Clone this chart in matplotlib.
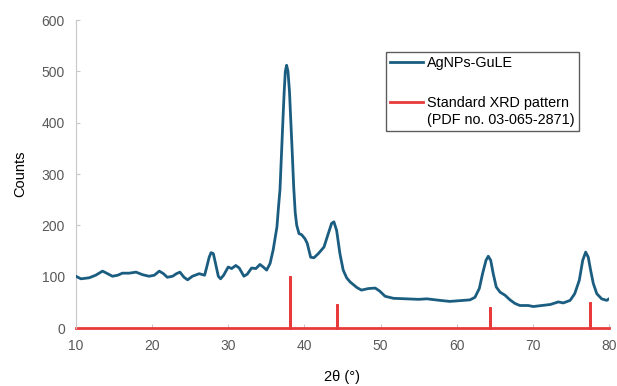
import matplotlib
matplotlib.use("Agg")
import matplotlib.pyplot as plt
from matplotlib.legend_handler import HandlerLine2D

plt.rcParams['font.family'] = ['Liberation Sans', 'DejaVu Sans']

# Measured XRD pattern (AgNPs-GuLE)
two_theta = [10.0, 10.66, 11.75, 12.6, 13.5, 14.16, 14.8, 15.5, 16.1, 17.0, 17.9, 18.76,
             19.6, 20.3, 20.95, 21.5, 22.0, 22.7, 23.2, 23.66, 24.2, 24.67, 25.3, 26.2,
             26.9, 27.2, 27.5, 27.75, 28.05, 28.35, 28.7, 29.0, 29.4, 30.0, 30.45, 31.0,
             31.45, 32.06, 32.5, 33.07, 33.64, 34.17, 34.6, 35.05, 35.5, 35.9, 36.4, 36.6,
             36.8, 37.0, 37.2, 37.35, 37.5, 37.67, 37.85, 38.05, 38.2, 38.4, 38.6, 38.8,
             39.0, 39.3, 39.64, 40.08, 40.38, 40.83, 41.26, 41.83, 42.58, 43.14, 43.58, 43.88,
             44.24, 44.67, 45.1, 45.55, 46.0, 46.9, 47.5, 48.4, 49.3, 49.9, 50.6, 51.7,
             53.4, 55.0, 56.1, 57.8, 59.1, 60.9, 61.75, 62.4, 62.97, 63.4, 63.85, 64.15,
             64.47, 64.8, 65.2, 65.7, 66.35, 67.0, 67.66, 68.3, 69.4, 70.06, 71.16, 72.3,
             73.35, 74.0, 74.9, 75.5, 76.1, 76.55, 76.94, 77.28, 77.6, 77.94, 78.4, 79.04,
             79.7, 80.0]
counts = [101, 96, 98, 103, 111, 106, 101, 103, 107, 107, 109, 104,
          101, 103, 111, 106, 99, 101, 106, 109, 99, 94, 101, 106,
          103, 120, 138, 147, 145, 125, 101, 96, 103, 119, 116, 122,
          117, 101, 105, 117, 116, 124, 119, 113, 126, 152, 197, 235,
          270, 340, 410, 460, 500, 512, 500, 460, 410, 345, 275, 225,
          200, 184, 182, 174, 165, 138, 137, 145, 158, 184, 204, 207,
          190, 145, 113, 98, 90, 79, 74, 77, 78, 72, 62, 58,
          57, 56, 57, 54, 52, 54, 55, 60, 77, 106, 132, 140,
          132, 106, 80, 70, 64, 55, 48, 44, 44, 42, 44, 46,
          51, 49, 54, 67, 93, 132, 148, 138, 112, 87, 67, 57,
          54, 57]

# Standard XRD pattern (PDF no. 03-065-2871)
std_pos = [38.1, 44.25, 64.4, 77.45]
std_int = [101, 47, 41, 51]

x_ticks = [10, 20, 30, 40, 50, 60, 70, 80]
y_ticks = [0, 100, 200, 300, 400, 500, 600]

blue = '#1b5d80'
red = '#e83a3a'

fig = plt.figure(figsize=(6.17, 3.86), dpi=100)
ax = fig.add_axes([0.123, 0.150, 0.864, 0.798])

# build stick pattern line
sx = [x_ticks[0]]
sy = [0]
for p, h in zip(std_pos, std_int):
    sx += [p, p, p]
    sy += [0, h, 0]
sx.append(x_ticks[-1])
sy.append(0)

red_line, = ax.plot(sx, sy, color=red, lw=2.0, solid_joinstyle='miter',
                    label='Standard XRD pattern\n(PDF no. 03-065-2871)', zorder=2, clip_on=False)
blue_line, = ax.plot(two_theta, counts, color=blue, lw=2.0, solid_joinstyle='round',
                     label='AgNPs-GuLE', zorder=3)

ax.set_xlim(10, 80)
ax.set_ylim(0, 600)
ax.set_xticks(x_ticks)
ax.set_yticks(y_ticks)
for s in ['top', 'right', 'bottom']:
    ax.spines[s].set_visible(False)
ax.spines['left'].set_color('#c8c8c8')
ax.tick_params(axis='both', direction='in', length=3, color='#c8c8c8',
               labelcolor='#595959', labelsize=10)
ax.tick_params(axis='x', pad=8)
ax.tick_params(axis='y', pad=8)

ax.set_xlabel('2θ (°)', fontsize=10.5, labelpad=12)
ax.set_ylabel('Counts', fontsize=10.5, labelpad=10)


class HandlerFirstLine(HandlerLine2D):
    def create_artists(self, legend, orig_handle, xdescent, ydescent, width,
                       height, fontsize, trans):
        return super().create_artists(legend, orig_handle, xdescent,
                                      ydescent - 1.4 * fontsize, width, height,
                                      fontsize, trans)


leg = ax.legend([blue_line, red_line],
                [blue_line.get_label(), red_line.get_label()],
                loc='upper left', bbox_to_anchor=(0.5816, 0.896), borderaxespad=0,
                frameon=True, fancybox=False, edgecolor='#333333', fontsize=10.4,
                labelspacing=1.8, handlelength=2.27, handletextpad=0.3,
                borderpad=0.3, handler_map={red_line: HandlerFirstLine()})
leg.get_frame().set_linewidth(1.0)

fig.savefig('out.png', dpi=100)
